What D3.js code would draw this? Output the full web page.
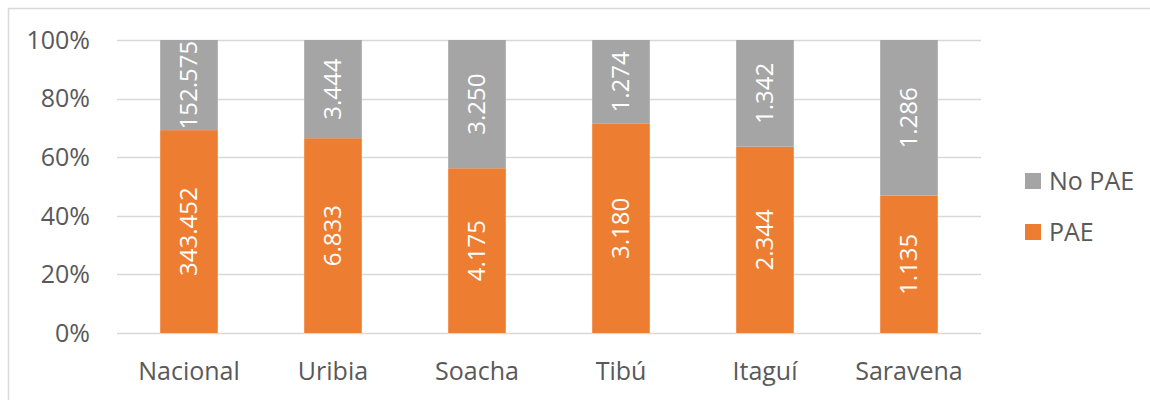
<!DOCTYPE html>
<html>
<head>
<meta charset="utf-8">
<script src="https://cdn.jsdelivr.net/npm/d3@7"></script>
<style>
  body { margin: 0; background: #fff; }
  svg text { font-family: "Open Sans", "Noto Sans", sans-serif; }
</style>
</head>
<body>
<div id="chart"></div>
<script>
// data
const categories = ["Nacional", "Uribia", "Soacha", "Tibú", "Itaguí", "Saravena"];
const paeValues = [343452, 6833, 4175, 3180, 2344, 1135];
const noPaeValues = [152575, 3444, 3250, 1274, 1342, 1286];
const seriesNames = ["PAE", "No PAE"];
const yTicks = [0, 0.2, 0.4, 0.6, 0.8, 1];

const width = 1150, height = 400;
const margin = { top: 40, right: 169, bottom: 67, left: 117 };
const colors = { "PAE": "#ed7d31", "No PAE": "#a5a5a5" };
const textColor = "#595959";
const fontSize = 25;

const svg = d3.select("#chart").append("svg")
  .attr("width", width)
  .attr("height", height);

// chart border (open at right and bottom, like the crop)
svg.append("rect")
  .attr("x", 8.5).attr("y", 8.5)
  .attr("width", width + 10).attr("height", height)
  .attr("fill", "none")
  .attr("stroke", "#d9d9d9")
  .attr("stroke-width", 1.5);

const x = d3.scaleBand()
  .domain(categories)
  .range([margin.left, width - margin.right])
  .paddingInner(0.6)
  .paddingOuter(0.3);

const y = d3.scaleLinear()
  .domain([0, 1])
  .range([height - margin.bottom, margin.top]);

// gridlines
svg.append("g")
  .selectAll("line")
  .data(yTicks)
  .join("line")
    .attr("x1", margin.left)
    .attr("x2", width - margin.right)
    .attr("y1", d => Math.round(y(d)) + 0.5)
    .attr("y2", d => Math.round(y(d)) + 0.5)
    .attr("stroke", "#d9d9d9")
    .attr("stroke-width", 1.5);

// y axis labels
svg.append("g")
  .selectAll("text")
  .data(yTicks)
  .join("text")
    .attr("x", 90)
    .attr("y", d => y(d))
    .attr("dy", "0.35em")
    .attr("text-anchor", "end")
    .attr("font-size", fontSize)
    .attr("fill", textColor)
    .text(d3.format(".0%"));

// stacked data, normalised to 100%
const rows = categories.map((c, i) => ({ cat: c, "PAE": paeValues[i], "No PAE": noPaeValues[i] }));
const stack = d3.stack().keys(seriesNames).offset(d3.stackOffsetExpand);
const series = stack(rows);

const fmt = v => d3.format(",")(v).replace(/,/g, ".");

const layers = svg.append("g")
  .selectAll("g")
  .data(series)
  .join("g")
    .attr("fill", d => colors[d.key]);

layers.selectAll("rect")
  .data(d => d)
  .join("rect")
    .attr("x", d => x(d.data.cat))
    .attr("width", x.bandwidth())
    .attr("y", d => y(d[1]))
    .attr("height", d => y(d[0]) - y(d[1]));

// value labels, rotated
layers.selectAll("text")
  .data(d => d.map(p => ({ p, key: d.key })))
  .join("text")
    .attr("transform", d => {
      let cx = x(d.p.data.cat) + x.bandwidth() / 2;
      let cy = (y(d.p[0]) + y(d.p[1])) / 2;
      return "translate(" + cx + "," + cy + ") rotate(-90)";
    })
    .attr("text-anchor", "middle")
    .attr("dy", "0.35em")
    .attr("font-size", fontSize - 1)
    .attr("fill", "#fff")
    .text(d => fmt(d.p.data[d.key]));

// category labels
svg.append("g")
  .selectAll("text")
  .data(categories)
  .join("text")
    .attr("x", d => x(d) + x.bandwidth() / 2)
    .attr("y", 371)
    .attr("dy", "0.35em")
    .attr("text-anchor", "middle")
    .attr("font-size", fontSize)
    .attr("fill", textColor)
    .text(d => d);

// legend
const legend = svg.append("g")
  .selectAll("g")
  .data(["No PAE", "PAE"])
  .join("g")
    .attr("transform", (d, i) => "translate(1025," + (181 + i * 51) + ")");

legend.append("rect")
  .attr("x", 0).attr("y", -8)
  .attr("width", 16).attr("height", 16)
  .attr("fill", d => colors[d]);

legend.append("text")
  .attr("x", 24)
  .attr("dy", "0.35em")
  .attr("font-size", fontSize)
  .attr("fill", textColor)
  .text(d => d);
</script>
</body>
</html>
